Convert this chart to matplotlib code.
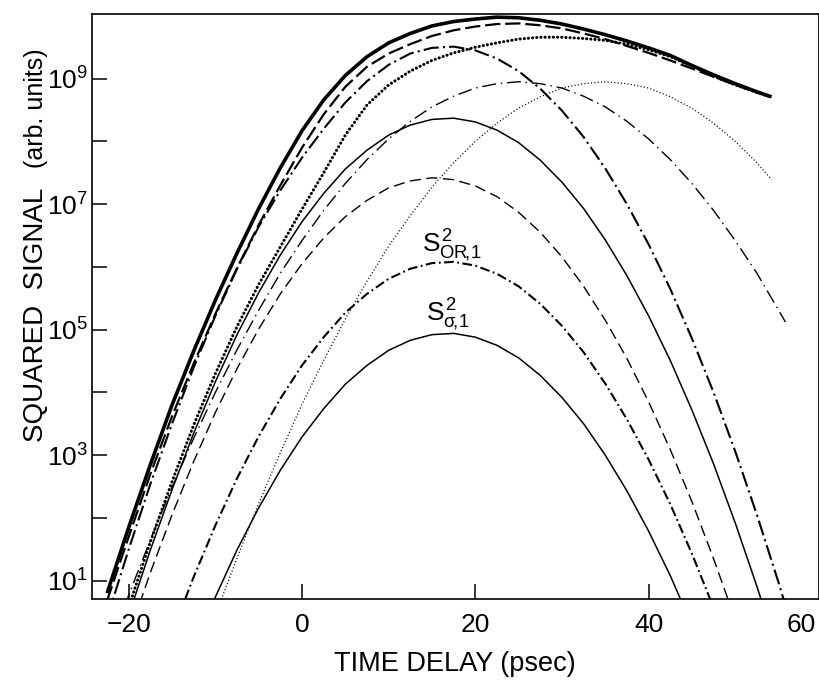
import numpy as np
import matplotlib
matplotlib.use("Agg")
import matplotlib.pyplot as plt
from matplotlib.ticker import FixedLocator, FuncFormatter, NullLocator

plt.rcParams['font.family'] = ['Liberation Sans', 'DejaVu Sans']
plt.rcParams['mathtext.fontset'] = 'custom'
plt.rcParams['mathtext.rm'] = 'Liberation Sans'
plt.rcParams['mathtext.it'] = 'Liberation Sans'
plt.rcParams['mathtext.bf'] = 'Liberation Sans'
plt.rcParams['lines.scale_dashes'] = False

# ---------------- data (log10 of squared signal) ----------------
t_g1 = [-12.5, -10, -7.5, -5, -2.5, 0, 2.5, 5, 7.5, 10, 12.5, 15, 17.5, 20, 22.5, 25,
        27.5, 30, 32.5, 35, 37.5, 40, 42.5, 45]
lg_g1 = [-0.08, 0.74, 1.49, 2.16, 2.76, 3.29, 3.74, 4.13, 4.43, 4.67, 4.83, 4.92, 4.94,
         4.88, 4.75, 4.55, 4.27, 3.92, 3.50, 3.00, 2.43, 1.79, 1.08, 0.29]

t_g2 = [-15, -12.5, -10, -7.5, -5, -2.5, 0, 2.5, 5, 7.5, 10, 12.5, 15, 17.5, 20, 22.5, 25,
        27.5, 30, 32.5, 35, 37.5, 40, 42.5, 45, 47.5]
lg_g2 = [0.16, 1.06, 1.88, 2.63, 3.30, 3.90, 4.43, 4.88, 5.27, 5.57, 5.81, 5.97, 6.06, 6.08,
         6.02, 5.89, 5.69, 5.41, 5.06, 4.64, 4.14, 3.57, 2.93, 2.22, 1.43, 0.57]

t_g3 = [-20, -17.5, -15, -12.5, -10, -7.5, -5, -2.5, 0, 2.5, 5, 7.5, 10, 12.5, 15, 17.5, 20,
        22.5, 25, 27.5, 30, 32.5, 35, 37.5, 40, 42.5, 45, 47.5, 50, 52.5]
lg_g3 = [0.13, 1.13, 2.05, 2.90, 3.68, 4.38, 5.01, 5.57, 6.05, 6.46, 6.80, 7.06, 7.26, 7.37,
         7.42, 7.39, 7.29, 7.12, 6.87, 6.55, 6.16, 5.69, 5.15, 4.54, 3.85, 3.09, 2.26, 1.35,
         0.38, -0.68]

t_g4 = [-20, -17.5, -15, -12.5, -10, -7.5, -5, -2.5, 0, 2.5, 5, 7.5, 10, 12.5, 15, 17.5, 20,
        22.5, 25, 27.5, 30, 32.5, 35, 37.5, 40, 42.5, 45, 47.5, 50, 52.5, 55]
lg_g4 = [0.45, 1.49, 2.45, 3.35, 4.17, 4.92, 5.59, 6.19, 6.72, 7.17, 7.56, 7.86, 8.10, 8.26,
         8.35, 8.37, 8.31, 8.18, 7.98, 7.70, 7.35, 6.93, 6.43, 5.86, 5.22, 4.51, 3.72, 2.86,
         1.92, 0.91, -0.17]

t_g5 = [-22.5, -20, -17.5, -15, -12.5, -10, -7.5, -5, -2.5, 0, 2.5, 5, 7.5, 10, 12.5, 15,
        17.5, 20, 22.5, 25, 27.5, 30, 32.5, 35, 37.5, 40, 42.5, 45, 47.5, 50, 52.5, 55, 57.5]
lg_g5 = [0.40, 1.50, 2.54, 3.50, 4.40, 5.22, 5.97, 6.64, 7.22, 7.74, 8.20, 8.62, 8.96, 9.22,
         9.40, 9.49, 9.51, 9.45, 9.32, 9.12, 8.84, 8.49, 8.07, 7.57, 7.00, 6.36, 5.65, 4.86,
         4.00, 3.06, 2.05, 0.97, -0.18]

t_e = [-22.5, -20, -17.5, -15, -12.5, -10, -7.5, -5, -2.5, 0, 2.5, 5, 7.5, 10, 12.5, 15,
       17.5, 20, 22.5, 25, 27.5, 30, 32.5, 35, 37.5, 40, 42.5, 45, 47.5, 50, 52.5, 55, 55.8]
lg_e = [-0.16, 0.77, 1.65, 2.49, 3.27, 4.00, 4.68, 5.31, 5.90, 6.42, 6.90, 7.33, 7.71, 8.04,
        8.32, 8.55, 8.72, 8.85, 8.92, 8.95, 8.92, 8.85, 8.72, 8.55, 8.32, 8.04, 7.71, 7.33,
        6.90, 6.42, 5.90, 5.31, 5.12]

t_p = [-10, -7.5, -5, -2.5, 0, 2.5, 5, 7.5, 10, 12.5, 15, 17.5, 20, 22.5, 25, 27.5, 30, 32.5,
       35, 37.5, 40, 42.5, 45, 47.5, 50, 52.5, 54.2]
lg_p = [0.45, 1.36, 2.23, 3.04, 3.81, 4.51, 5.17, 5.77, 6.33, 6.82, 7.27, 7.66, 8.00, 8.29,
        8.53, 8.71, 8.85, 8.92, 8.95, 8.92, 8.85, 8.71, 8.53, 8.29, 8.00, 7.66, 7.39]

t_sum = [-22.5, -20, -17.5, -15, -12.5, -10, -7.5, -5, -2.5, 0, 2.5, 5, 7.5, 10, 12.5, 15,
         17.5, 20, 22.5, 25, 27.5, 30, 32.5, 35, 37.5, 40, 42.5, 45, 47.5, 50, 52.5, 54.2]
lg_d = [-0.3, 0.58, 1.62, 2.58, 3.48, 4.30, 5.05, 5.72, 6.32, 6.92, 7.50, 8.10, 8.58, 8.90,
        9.12, 9.29, 9.41, 9.50, 9.57, 9.63, 9.66, 9.66, 9.64, 9.61, 9.55, 9.46, 9.35, 9.20,
        9.04, 8.90, 8.78, 8.70]
lg_b = [0.68, 1.70, 2.70, 3.62, 4.46, 5.25, 5.98, 6.67, 7.30, 7.90, 8.43, 8.87, 9.19, 9.40,
        9.55, 9.68, 9.77, 9.83, 9.87, 9.88, 9.85, 9.80, 9.72, 9.63, 9.52, 9.41, 9.29, 9.16,
        9.03, 8.90, 8.78, 8.71]
lg_a = [0.80, 1.85, 2.85, 3.80, 4.66, 5.47, 6.22, 6.93, 7.58, 8.17, 8.66, 9.05, 9.35, 9.57,
        9.72, 9.84, 9.91, 9.95, 9.98, 9.97, 9.93, 9.87, 9.79, 9.70, 9.60, 9.49, 9.37, 9.21,
        9.06, 8.92, 8.79, 8.71]
t_d = [-22.5] + t_sum[1:]

x_ticks = [-20, 0, 20, 40]
y_decades = [1, 2, 3, 4, 5, 6, 7, 8, 9]
y_labeled = [1, 3, 5, 7, 9]

# ---------------- figure ----------------
fig = plt.figure(figsize=(8.2, 6.8), dpi=100)
ax = fig.add_axes([92 / 820, 81 / 680, 727 / 820, 585 / 680])
ax.set_yscale('log')


def p(t, lg, **kw):
    ax.plot(t, 10.0 ** np.asarray(lg), color='black', solid_capstyle='butt', **kw)


p(t_g1, lg_g1, lw=1.1)
p(t_g2, lg_g2, lw=1.5, linestyle=(0, (7, 2.5, 1.3, 2.5)))
p(t_g3, lg_g3, lw=1.0, linestyle=(0, (8, 4)))
p(t_g4, lg_g4, lw=1.1)
p(t_g5, lg_g5, lw=1.5, linestyle=(0, (11, 3, 1.5, 3)))
p(t_e, lg_e, lw=1.0, linestyle=(0, (10, 3.5, 1.0, 3.5)))
p(t_p, lg_p, lw=0.9, linestyle=(0, (0.8, 1.6)))
p(t_d, lg_d, lw=2.2, linestyle=(0, (0.1, 2.9)), dash_capstyle='round')
p(t_sum, lg_b, lw=1.6, linestyle=(0, (11, 3.5)))
p(t_sum, lg_a, lw=2.6)

ax.set_xlim(-24.24, 59.67)
ax.set_ylim(10 ** 0.707, 10 ** 10.03)

ax.xaxis.set_major_locator(FixedLocator(x_ticks))
ax.xaxis.set_minor_locator(NullLocator())
ax.yaxis.set_major_locator(FixedLocator([10.0 ** k for k in y_decades]))
ax.yaxis.set_minor_locator(NullLocator())


def yfmt(v, pos):
    k = int(round(np.log10(v)))
    return r'$10^{%d}$' % k if k in y_labeled else ''


ax.yaxis.set_major_formatter(FuncFormatter(yfmt))
ax.xaxis.set_major_formatter(FuncFormatter(lambda v, pos: '\u2212%d' % abs(v) if v < 0 else '%d' % v))

ax.tick_params(axis='both', direction='in', length=11, width=1.1, labelsize=19)
ax.tick_params(axis='x', pad=10)
ax.tick_params(axis='y', pad=3)
for s in ax.spines.values():
    s.set_linewidth(1.2)

ax.annotate('60', xy=(1, 0), xycoords='axes fraction', xytext=(-2, -10),
            textcoords='offset points', ha='right', va='top', fontsize=19)

ax.text(17.3, 10 ** 6.33, r'$S^{2}_{\mathrm{OR}\!,\!1}$', ha='center', va='center', fontsize=19)
ax.text(16.85, 10 ** 5.23, r'$S^{2}_{\sigma\!,\!1}$', ha='center', va='center', fontsize=19)

fig.text(455 / 820, 1 - 671 / 680, 'TIME DELAY (psec)', ha='center', va='baseline', fontsize=19.5)
fig.text(43 / 820, 1 - 442 / 680, 'SQUARED  SIGNAL', rotation=90, rotation_mode='anchor',
         ha='left', va='baseline', fontsize=20)
fig.text(43 / 820, 1 - 168 / 680, '(arb. units)', rotation=90, rotation_mode='anchor',
         ha='left', va='baseline', fontsize=18)

fig.savefig('out.png', dpi=100)
